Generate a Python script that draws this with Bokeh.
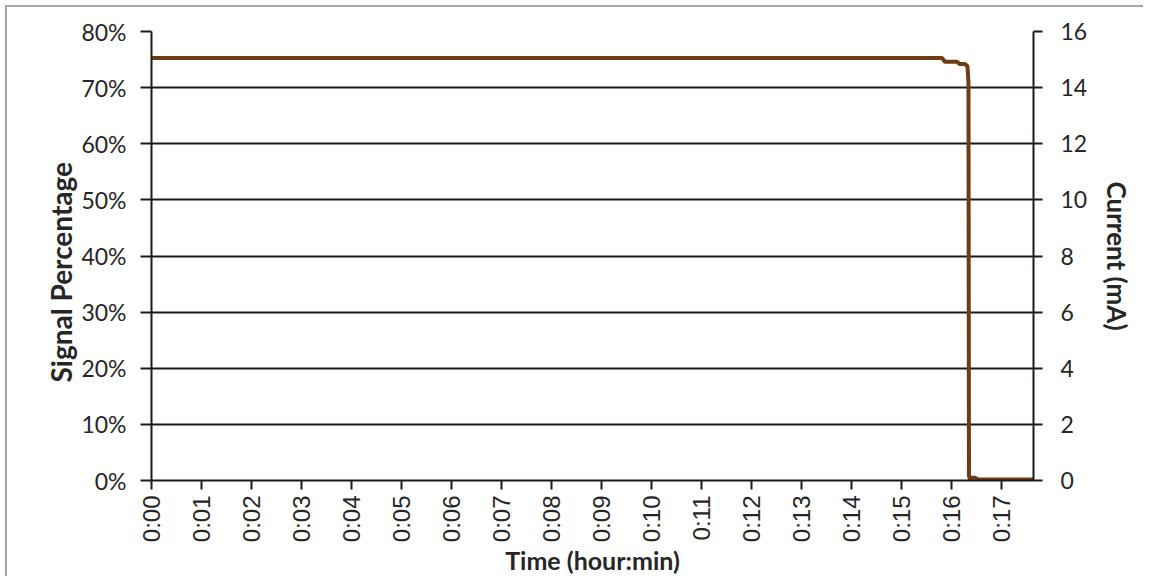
import math
from bokeh.plotting import figure
from bokeh.models import Range1d, LinearAxis, FixedTicker, CustomJSTickFormatter, Title
from bokeh.embed import file_html
from bokeh.resources import INLINE

# Data: time in minutes, signal in percent
time_min = [0.0, 15.80, 15.86, 16.10, 16.16, 16.26, 16.31, 16.33, 16.34, 16.35, 16.40, 16.46, 16.52, 17.63]
signal_pct = [75.3, 75.3, 74.6, 74.6, 74.2, 74.2, 73.8, 71.0, 1.0, 0.4, 0.5, 0.5, 0.2, 0.2]

x_ticks = list(range(0, 18))
x_tick_labels = ["0:%02d" % m for m in x_ticks]
y_ticks = [0, 10, 20, 30, 40, 50, 60, 70, 80]
current_ticks = [0, 2, 4, 6, 8, 10, 12, 14, 16]
x_title = "Time (hour:min)"
y_title = "Signal Percentage"
y2_title = "Current (mA)"

LINE_COLOR = "#6E3B13"
TEXT_COLOR = "#262626"
AXIS_COLOR = "#1f1a17"
W, H = 1138, 571

p = figure(width=W, height=H, output_backend="svg", toolbar_location=None,
           x_range=Range1d(0, 17.63), y_range=Range1d(0, 80),
           min_border_left=144, min_border_right=112, min_border_top=24, min_border_bottom=97)
p.styles = {"margin-left": "5px", "margin-top": "5px",
            "border-left": "2px solid #a6a6a6", "border-top": "2px solid #a6a6a6"}
p.outline_line_color = None
p.background_fill_color = "white"
p.border_fill_color = "white"

p.extra_y_ranges = {"current": Range1d(0, 16)}

# Left axis
ya = p.yaxis[0]
ya.ticker = FixedTicker(ticks=y_ticks)
ya.formatter = CustomJSTickFormatter(code="return tick.toFixed(0) + '%';")

# Right axis
ra = LinearAxis(y_range_name="current", ticker=FixedTicker(ticks=current_ticks), axis_label=y2_title)
p.add_layout(ra, "right")

# Bottom axis
xa = p.xaxis[0]
xa.ticker = FixedTicker(ticks=x_ticks)
xa.major_label_overrides = {t: l for t, l in zip(x_ticks, x_tick_labels)}
xa.major_label_orientation = math.pi / 2
xa.axis_label = x_title

for ax in [ya, ra, xa]:
    ax.axis_line_color = AXIS_COLOR
    ax.axis_line_width = 2
    ax.major_tick_line_color = AXIS_COLOR
    ax.major_tick_line_width = 2
    ax.minor_tick_line_color = None
    ax.major_tick_in = 0
    ax.major_label_text_color = TEXT_COLOR
    ax.axis_label_text_color = TEXT_COLOR
    ax.axis_label_text_font = "Lato"
    ax.axis_label_text_font_style = "bold"
    ax.axis_label_text_font_size = "26px"

for ax in [ya, ra]:
    ax.major_label_text_font = "Lato"
    ax.major_label_text_font_size = "23px"

ya.major_tick_out = 11
ya.major_label_standoff = 14
ra.major_tick_out = 9
ra.major_label_standoff = 18
ra.axis_label_standoff = 11

xa.major_tick_out = 9
xa.major_label_standoff = 6
xa.major_label_text_font = "Liberation Sans"
xa.major_label_text_font_size = "24px"
xa.axis_label_text_font_size = "25px"
xa.axis_label_standoff = 0

# Left title as a side-panel Title, anchored from the bottom of the plot area
p.add_layout(Title(text=y_title, align="left", offset=98, standoff=2,
                   text_font="Lato", text_font_style="bold", text_font_size="28px",
                   text_color=TEXT_COLOR), "left")

p.xgrid.grid_line_color = None
p.ygrid.ticker = FixedTicker(ticks=y_ticks)
p.ygrid.grid_line_color = AXIS_COLOR
p.ygrid.grid_line_width = 2
p.ygrid.grid_line_alpha = 1.0

p.line(time_min, signal_pct, line_color=LINE_COLOR, line_width=4, line_join="round")

open("out.html", "w").write(file_html(p, INLINE))
